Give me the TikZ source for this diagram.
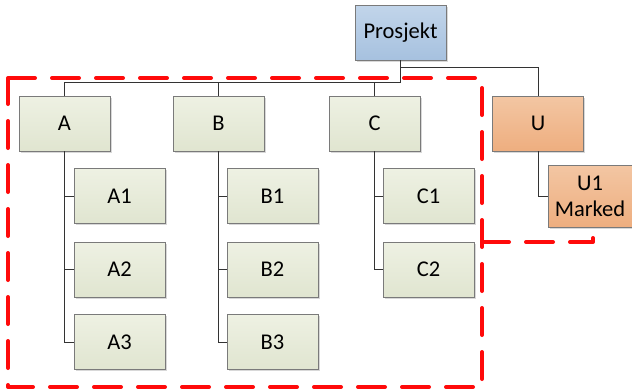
\documentclass[tikz,border=0pt]{standalone}
\usepackage{fontspec}
\setmainfont{Carlito}
\usetikzlibrary{shadows}
\definecolor{gtop}{HTML}{EEF1E3}
\definecolor{gbot}{HTML}{E0E5D0}
\definecolor{btop}{HTML}{C2D5EA}
\definecolor{bbot}{HTML}{A6C1DF}
\definecolor{otop}{HTML}{F3C6A3}
\definecolor{obot}{HTML}{EEAE7F}
\definecolor{bord}{HTML}{7A7A7A}
\definecolor{dashred}{HTML}{FF0A0A}
\tikzset{
  box/.style={draw=bord, line width=0.9pt, minimum width=91pt, minimum height=55pt, inner sep=0pt,
    font=\fontsize{22.5}{25}\selectfont, align=center,
    drop shadow={shadow xshift=1.5pt, shadow yshift=-1.5pt, fill=black!30, opacity=0.5}},
  gbox/.style={box, top color=gtop, bottom color=gbot},
  bbox/.style={box, top color=btop, bottom color=bbot},
  obox/.style={box, top color=otop, bottom color=obot},
  conn/.style={draw=black!80, line width=0.8pt},
  redline/.style={draw=dashred, line width=4pt, dash pattern=on 27pt off 17pt, line cap=round, line join=round}
}
\begin{document}
\begin{tikzpicture}[x=1pt, y=-1pt]
\useasboundingbox (0,0) rectangle (632,391);
% nodes
\node[bbox] (P) at (400.5,32.5) {Prosjekt};
\node[gbox] (A) at (64.5,123.5) {A};
\node[gbox] (B) at (218.5,123.5) {B};
\node[gbox] (C) at (374.5,123.5) {C};
\node[obox] (U) at (538,123.5) {U};
\node[gbox] (A1) at (119.5,196) {A1};
\node[gbox] (A2) at (119.5,269.5) {A2};
\node[gbox] (A3) at (119.5,342) {A3};
\node[gbox] (B1) at (272.5,196) {B1};
\node[gbox] (B2) at (272.5,269.5) {B2};
\node[gbox] (B3) at (272.5,342) {B3};
\node[gbox] (C1) at (428.5,196) {C1};
\node[gbox] (C2) at (428.5,269.5) {C2};
\node[obox, minimum width=84pt, minimum height=62pt, font=\fontsize{22.5}{26}\selectfont] (U1) at (590,196) {U1\\Marked};
% connectors
\coordinate (j1) at (400.5,67);
\coordinate (j2) at (400.5,82);
\draw[conn] (P.south) -- (j1) -| (U.north);
\draw[conn] (j1) -- (j2) -| (A.north);
\draw[conn] (j2) -| (B.north);
\draw[conn] (j2) -| (C.north);
\draw[conn] (A.south) |- (A1.west);
\draw[conn] (A.south) |- (A2.west);
\draw[conn] (A.south) |- (A3.west);
\draw[conn] (B.south) |- (B1.west);
\draw[conn] (B.south) |- (B2.west);
\draw[conn] (B.south) |- (B3.west);
\draw[conn] (C.south) |- (C1.west);
\draw[conn] (C.south) |- (C2.west);
\draw[conn] (U.south) |- (U1.west);
% red dashed boundary
\coordinate (r1) at (8,78);
\coordinate (r2) at (482,78);
\coordinate (r3) at (482,387);
\coordinate (r4) at (8,387);
\coordinate (r5) at (482,242);
\coordinate (r6) at (593,242);
\draw[redline] (r1) -- (r2) -- (r3) -- (r4) -- cycle;
\draw[redline] (r5) -- (r6) -- (U1.south -| r6);
\end{tikzpicture}
\end{document}
